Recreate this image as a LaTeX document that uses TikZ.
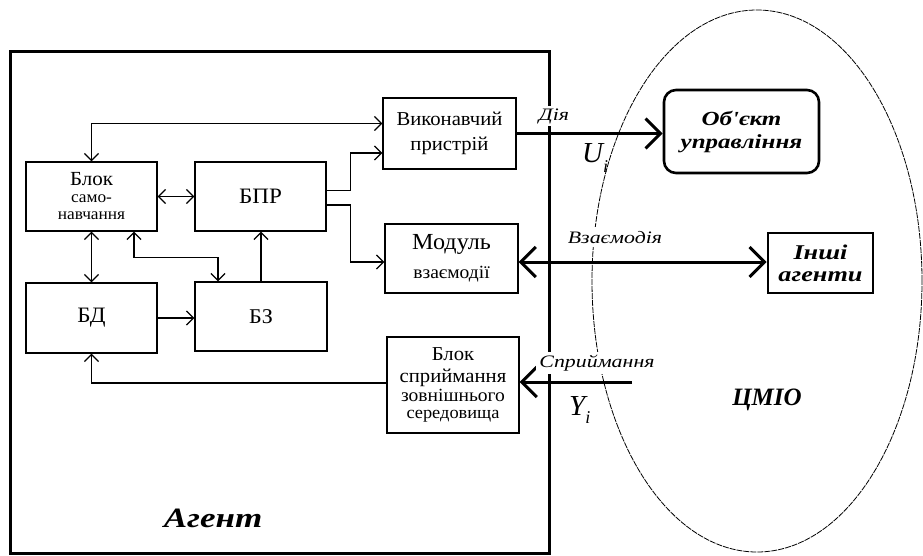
\documentclass[tikz,border=0pt]{standalone}
\usepackage{fontspec}
\setmainfont{Liberation Serif}
\newfontfamily\bxf[FakeStretch=1.05]{Liberation Serif}
\newfontfamily\labf[FakeStretch=1.25]{Liberation Serif}
\usetikzlibrary{arrows.meta,shapes.geometric}
\begin{document}
\begin{tikzpicture}[x=1pt,y=-1pt,
  boxst/.style={draw, line width=1.3pt, inner sep=0pt, align=center, font={\bxf\fontsize{17.5}{17}\selectfont}},
  thinln/.style={line width=1.3pt, >={Straight Barb[length=7pt,width=14pt]}},
  thickln/.style={line width=3pt, >={Straight Barb[length=15pt,width=30pt]}},
  lbl/.style={fill=white, inner sep=2pt, font={\labf\itshape\fontsize{17.5}{17}\selectfont}},
]
\useasboundingbox (0,0) rectangle (923,555);
\fill[white] (0,0) rectangle (923,555);

% environment ellipse
\node[ellipse, draw, line width=0.8pt, dash pattern=on 6pt off 1pt, inner sep=0pt,
      minimum width=330pt, minimum height=542pt] (cmio) at (757,281) {};

% agent frame
\node[draw, line width=3pt, inner sep=0pt, minimum width=539pt, minimum height=502pt] (agent) at (279.5,302) {};

% blocks
\node[boxst, minimum width=131pt, minimum height=69pt, font={\bxf\fontsize{16.5}{17}\selectfont}] (self) at (91.5,196.5)
  {{\fontsize{20}{18}\selectfont Блок}\\[0pt]само-\\[0pt]навчання};
\node[boxst, minimum width=131pt, minimum height=69pt, font={\bxf\fontsize{22}{22}\selectfont}] (bpr) at (260.5,196.5) {БПР};
\node[boxst, minimum width=131pt, minimum height=70pt, font={\bxf\fontsize{22}{22}\selectfont}] (bd) at (91.5,318) {БД};
\node[boxst, minimum width=132pt, minimum height=69pt, font={\bxf\fontsize{21}{21}\selectfont}] (bz) at (261,316.5) {БЗ};
\node[boxst, minimum width=133pt, minimum height=71pt, font={\bxf\fontsize{19.7}{25}\selectfont}] (vyk) at (449.5,133.5) {Виконавчий\\пристрій};
\node[boxst, minimum width=133pt, minimum height=69pt, font={\bxf\fontsize{18.6}{20}\selectfont}] (mod) at (451.5,258.5)
  {{\fontsize{23}{21}\selectfont Модуль}\\[9pt]взаємодії};
\node[boxst, minimum width=132pt, minimum height=96pt, font={\bxf\fontsize{17.5}{17}\selectfont}] (sprym) at (453,385)
  {{\fontsize{19.7}{18}\selectfont Блок}\\[5pt]{\fontsize{19.7}{18}\selectfont сприймання}\\[2pt]{\fontsize{18.6}{17}\selectfont зовнішнього}\\середовища};

\node[draw, line width=2.6pt, rounded corners=12pt, inner sep=0pt, minimum width=155pt, minimum height=83pt,
      align=center, font={\labf\bfseries\itshape\fontsize{20}{23}\selectfont}] (obj) at (741.5,131.5) {Об'єкт\\управління};
\node[draw, line width=2.6pt, inner sep=0pt, minimum width=105pt, minimum height=60pt,
      align=center, font={\labf\bfseries\itshape\fontsize{21}{22}\selectfont}] (inshi) at (820.5,263) {Інші\\агенти};

% thin connectors
\draw[thinln,<->] (self.north) |- ([yshift=10pt]vyk.west);
\draw[thinln,->] ([yshift=6pt]bpr.east) -- ++(24,0) |- ([yshift=-19.5pt]vyk.west);
\draw[thinln,->] ([yshift=-8.5pt]bpr.east) -- ++(24,0) |- ([yshift=-3.5pt]mod.west);
\draw[thinln,<->] (self.east) -- (bpr.west);
\draw[thinln,<->] (self.south) -- (bd.north);
\draw[thinln,<->] ([xshift=42.5pt]self.south) -- ++(0,26) -| ([xshift=-43pt]bz.north);
\draw[thinln,->] (bz.north) -- (bz.north |- bpr.south);
\draw[thinln,->] (bd.east) -- (bd.east -| bz.west);
\draw[thinln,->] ([yshift=2pt]sprym.west) -| (bd.south);

% thick connectors
\draw[thickln,->] (vyk.east) -- (vyk.east -| obj.west);
\draw[thickln,<->] ([yshift=-3.5pt]mod.east) -- ([yshift=-3.5pt]mod.east -| inshi.west);
\coordinate (yin) at (632,382);
\draw[thickln,->] (yin) -- (yin -| sprym.east);

% labels
\node[lbl, anchor=base] (dia) at (554,120) {Дія};
\node[lbl, anchor=base, inner sep=4pt] (vz) at (615,243) {Взаємодія};
\node[lbl, anchor=base, inner sep=3pt] (spr) at (597,367) {Сприймання};
\node[anchor=base west, inner sep=0pt, font={\itshape\fontsize{29}{29}\selectfont}] (ui) at (582,162) {U\raisebox{-10pt}{\fontsize{18}{18}\selectfont i}};
\node[anchor=base west, inner sep=0pt, font={\itshape\fontsize{29}{29}\selectfont}] (yi) at (569,415) {Y\raisebox{-8pt}{\fontsize{18}{18}\selectfont i}};
\node[inner sep=0pt, font={\bfseries\itshape\fontsize{25}{25}\selectfont}] (cmiolbl) at (767,400) {ЦМІО};
\node[inner sep=0pt, font={\labf\bfseries\itshape\fontsize{28}{28}\selectfont}] (agentlbl) at (213,518) {Агент};
\end{tikzpicture}
\end{document}
